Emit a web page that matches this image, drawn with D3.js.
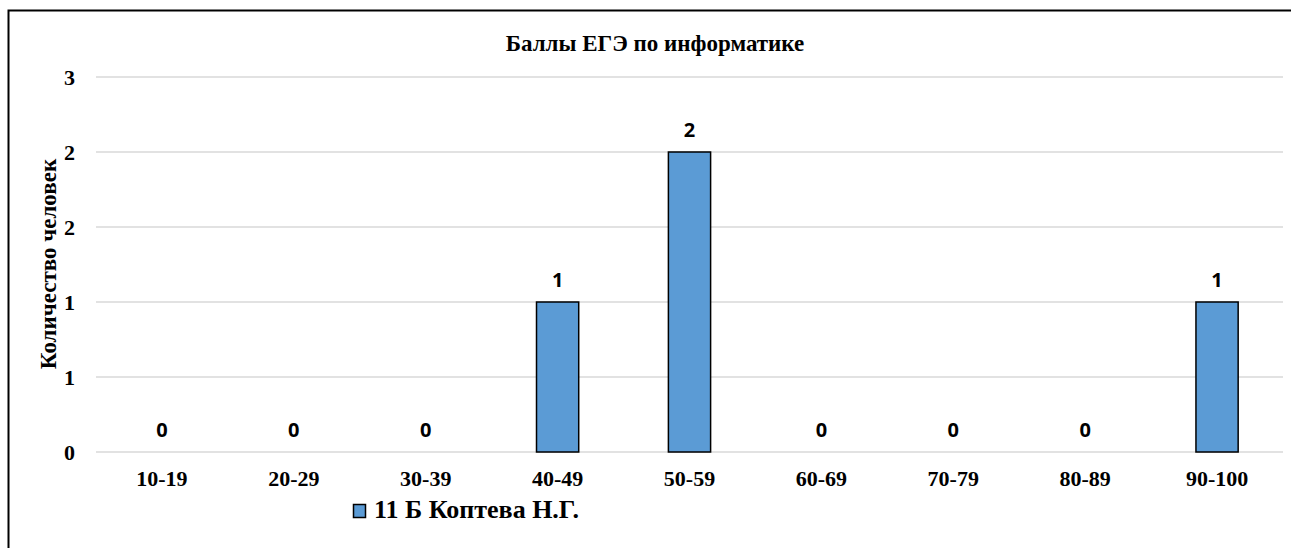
<!DOCTYPE html>
<html><head><meta charset="utf-8">
<script src="https://cdn.jsdelivr.net/npm/d3@7"></script>
<style>body{margin:0;background:#fff}svg{display:block}</style>
</head><body><svg id="c" width="1291" height="548"></svg>
<script>
const categories = ["10-19","20-29","30-39","40-49","50-59","60-69","70-79","80-89","90-100"];
const values = [0,0,0,1,2,0,0,0,1];
const yTickValues = [0,0.5,1,1.5,2,2.5];
const yTickLabels = ["0","1","1","2","2","3"];
const seriesName = "11 Б Коптева Н.Г.";
const title = "Баллы ЕГЭ по информатике";
const yTitle = "Количество человек";

const svg = d3.select("#c");
const serif = "'Liberation Serif','Times New Roman',serif";
const sans = "'Open Sans','Liberation Sans',sans-serif";

// frame
svg.append("path").attr("d","M8.5,548 L8.5,10.5 L1291,10.5").attr("fill","none").attr("stroke","#000").attr("stroke-width",2);

const L=96, R=1283, T=77, B=452;
const x = d3.scaleBand().domain(categories).range([L,R]).padding(0);
const y = d3.scaleLinear().domain([0,2.5]).range([B,T]);

// gridlines
svg.append("g").selectAll("line").data(yTickValues).join("line")
  .attr("x1",L).attr("x2",R).attr("y1",d=>y(d)).attr("y2",d=>y(d))
  .attr("stroke","#d9d9d9").attr("stroke-width",1.5);

// y axis labels
const yAxis = d3.axisLeft(y).tickValues(yTickValues).tickFormat((d,i)=>yTickLabels[i]).tickSize(0).tickPadding(0);
const yg = svg.append("g").attr("transform",`translate(75,0)`).call(yAxis);
yg.select(".domain").remove();
yg.selectAll("text").attr("font-family",serif).attr("font-weight","bold").attr("font-size",22).attr("fill","#000").attr("dy","0.33em");

// x axis labels
const xAxis = d3.axisBottom(x).tickSize(0).tickPadding(0);
const xg = svg.append("g").attr("transform",`translate(0,486)`).call(xAxis);
xg.select(".domain").remove();
xg.selectAll("text").attr("font-family",serif).attr("font-weight","bold").attr("font-size",22).attr("fill","#000").attr("dy","0").attr("y",0);

// bars
const bw = x.bandwidth()*0.32;
svg.append("g").selectAll("rect").data(values.map((v,i)=>({c:categories[i],v})).filter(d=>d.v>0)).join("rect")
  .attr("x",d=>x(d.c)+x.bandwidth()/2-bw/2).attr("width",bw)
  .attr("y",d=>y(d.v)).attr("height",d=>y(0)-y(d.v))
  .attr("fill","#5b9bd5").attr("stroke","#000").attr("stroke-width",1.5);

// data labels
svg.append("g").selectAll("text").data(values.map((v,i)=>({c:categories[i],v}))).join("text")
  .attr("x",d=>x(d.c)+x.bandwidth()/2).attr("y",d=>y(d.v)-15)
  .attr("text-anchor","middle").attr("font-family",sans).attr("font-weight","bold").attr("font-size",20).attr("fill","#000")
  .text(d=>d.v);

// title
svg.append("text").attr("x",655).attr("y",51).attr("text-anchor","middle")
  .attr("font-family",serif).attr("font-weight","bold").attr("font-size",23).text(title);

// y title
svg.append("text").attr("transform","translate(56,264) rotate(-90)").attr("text-anchor","middle")
  .attr("font-family",serif).attr("font-weight","bold").attr("font-size",23).text(yTitle);

// legend
svg.append("rect").attr("x",353.5).attr("y",504.5).attr("width",12).attr("height",13)
  .attr("fill","#5b9bd5").attr("stroke","#000").attr("stroke-width",1.5);
svg.append("text").attr("x",374).attr("y",518).attr("font-family",serif).attr("font-weight","bold").attr("font-size",26).text(seriesName);
</script></body></html>
